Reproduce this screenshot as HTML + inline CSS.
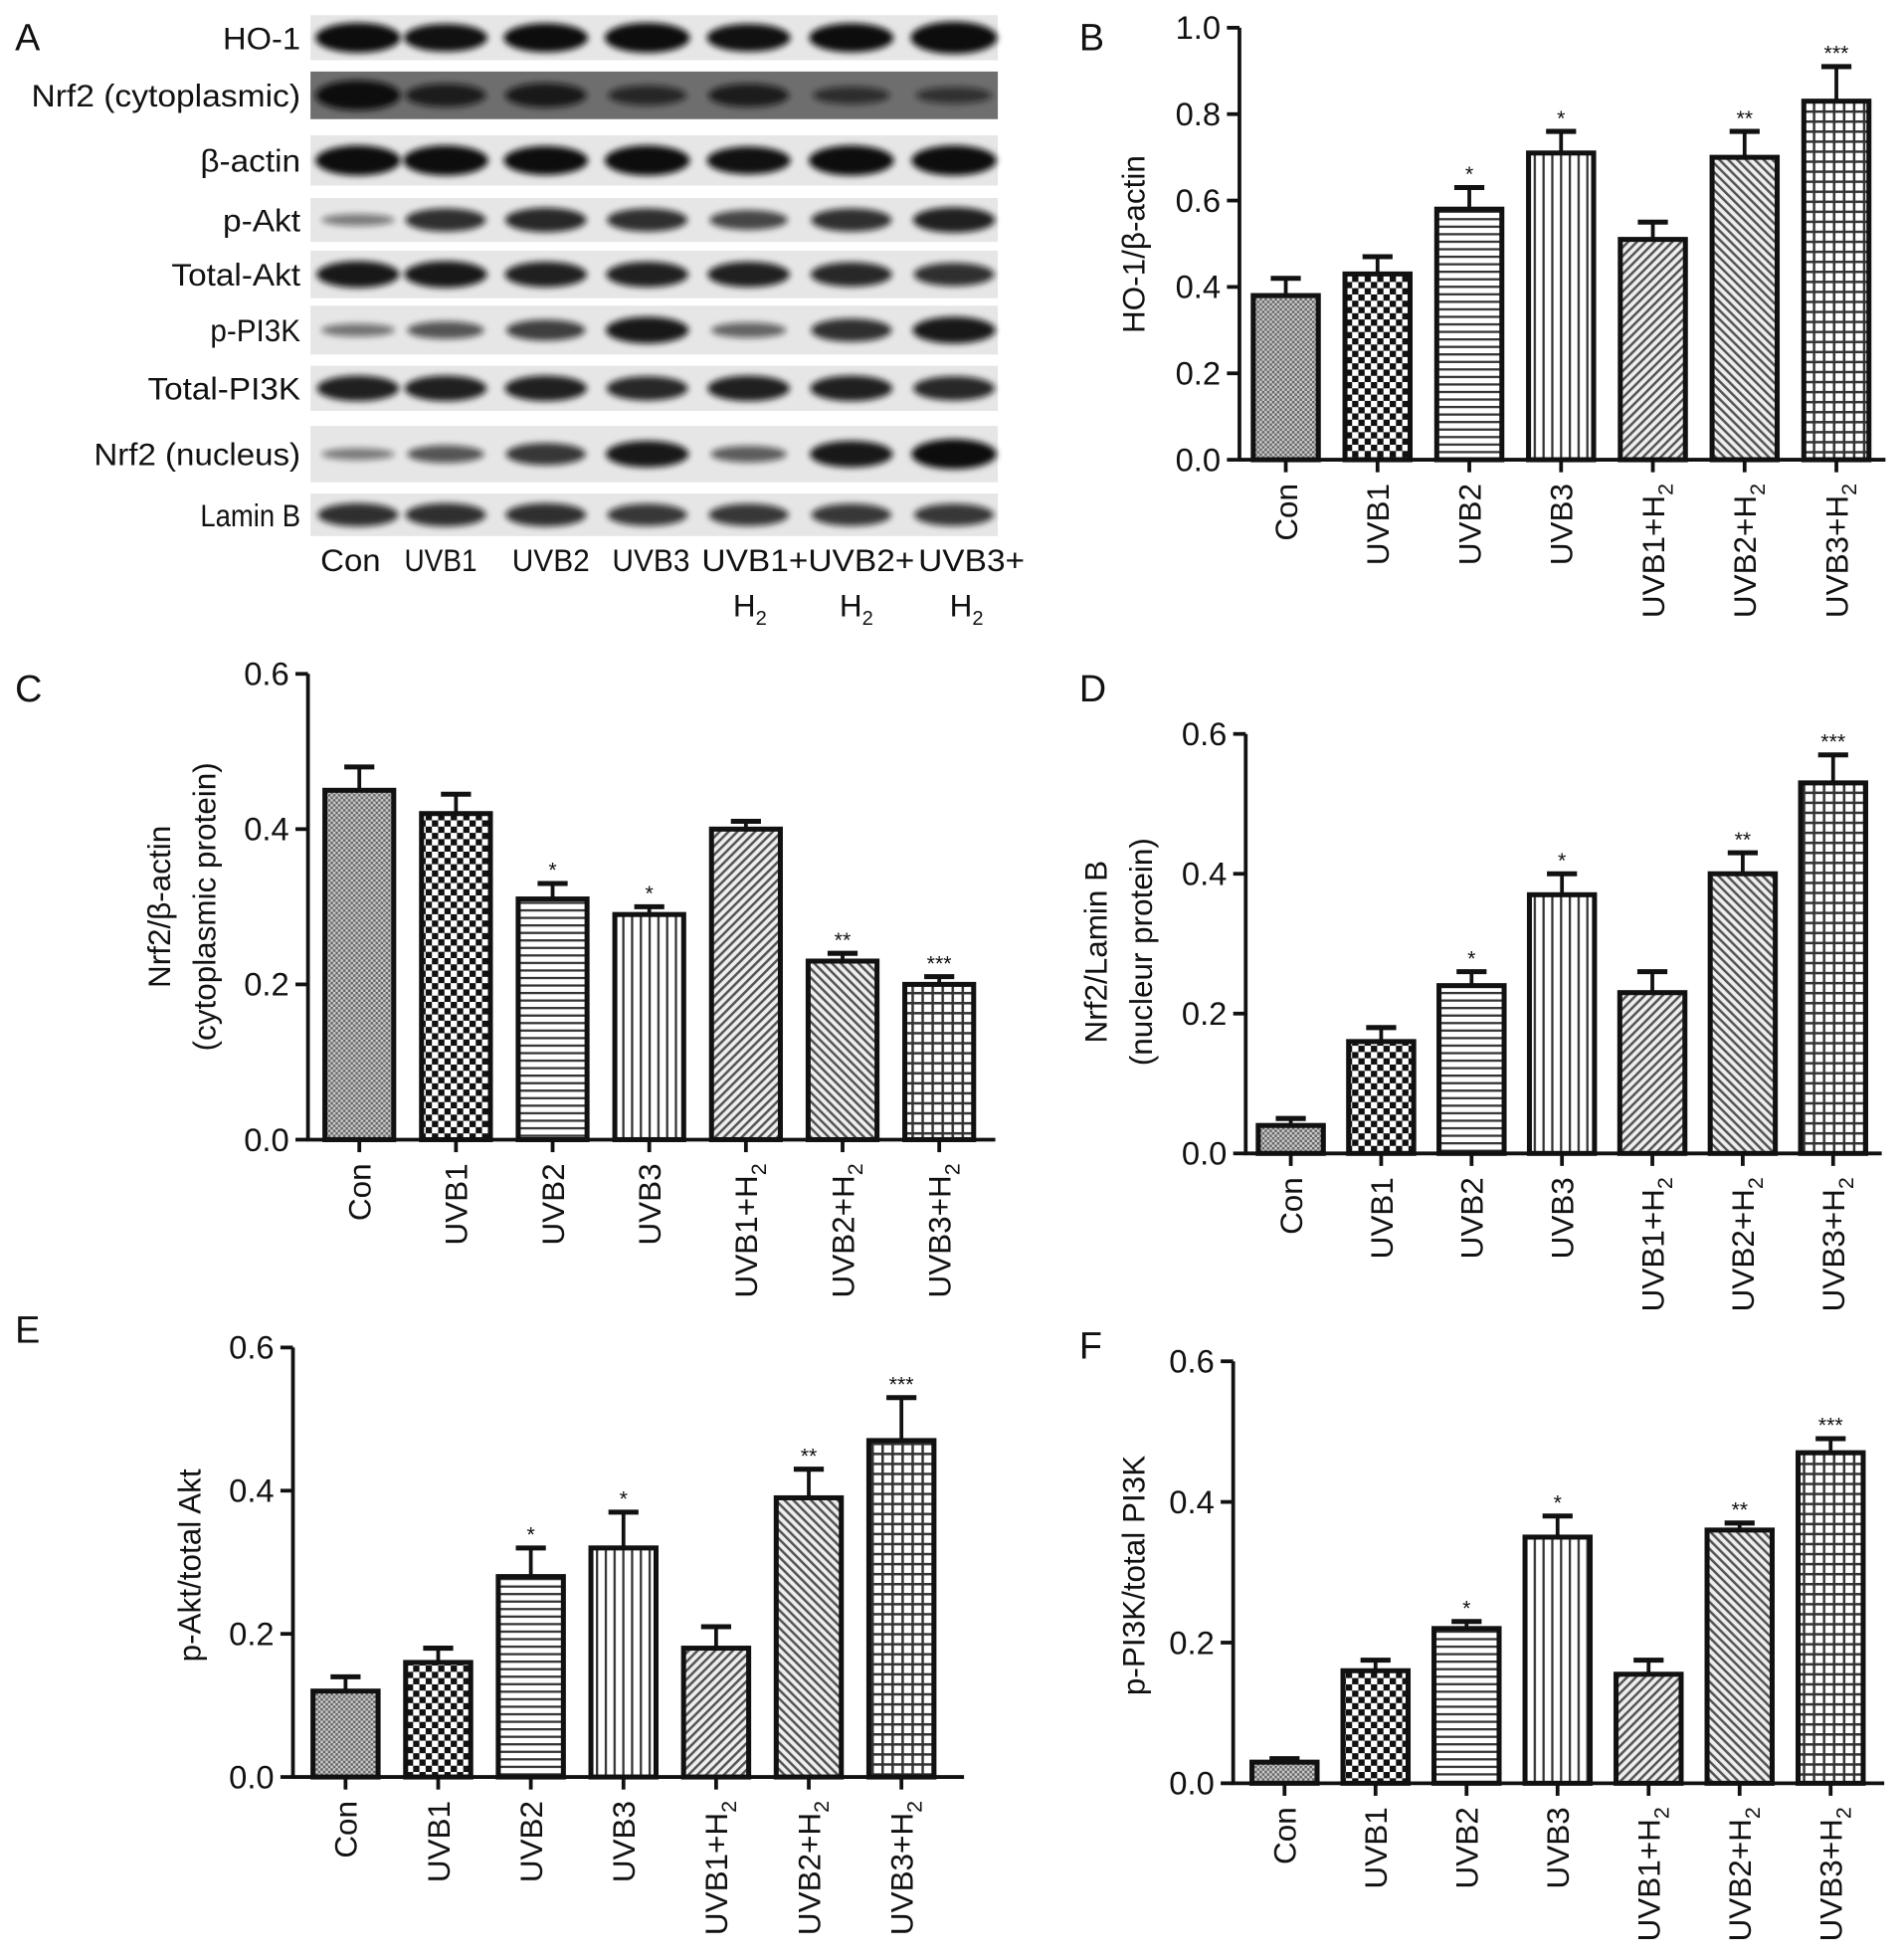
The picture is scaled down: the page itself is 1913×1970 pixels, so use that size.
<!DOCTYPE html>
<html><head><meta charset="utf-8">
<style>
html,body{margin:0;padding:0;background:#fff;}
svg{display:block;}
text{font-family:"Liberation Sans",sans-serif;fill:#111;}
</style></head>
<body>
<svg id="fig" width="1913" height="1970" viewBox="0 0 1520 1565" xmlns="http://www.w3.org/2000/svg">
<defs>
  <pattern id="p0" width="4" height="4" patternUnits="userSpaceOnUse"><rect width="4" height="4" fill="#ccc"/><rect width="2" height="2" fill="#666"/><rect x="2" y="2" width="2" height="2" fill="#666"/></pattern>
  <pattern id="p1" width="10" height="10" patternUnits="userSpaceOnUse"><rect width="10" height="10" fill="#fff"/><rect width="5" height="5" fill="#111"/><rect x="5" y="5" width="5" height="5" fill="#111"/></pattern>
  <pattern id="p2" width="6" height="6" patternUnits="userSpaceOnUse"><rect width="6" height="6" fill="#fff"/><rect y="0" width="6" height="1.8" fill="#333"/></pattern>
  <pattern id="p3" width="7" height="7" patternUnits="userSpaceOnUse"><rect width="7" height="7" fill="#fff"/><rect x="0" width="1.8" height="7" fill="#333"/></pattern>
  <pattern id="p4" width="5" height="5" patternUnits="userSpaceOnUse" patternTransform="rotate(45)"><rect width="5" height="5" fill="#eee"/><rect width="2" height="5" fill="#555"/></pattern>
  <pattern id="p5" width="5" height="5" patternUnits="userSpaceOnUse" patternTransform="rotate(-45)"><rect width="5" height="5" fill="#eee"/><rect width="2" height="5" fill="#555"/></pattern>
  <pattern id="p6" width="8" height="8" patternUnits="userSpaceOnUse"><rect width="8" height="8" fill="#333"/><rect x="2" y="2" width="6" height="6" fill="#fff"/></pattern>
  <filter id="blur" x="-30%" y="-80%" width="160%" height="260%"><feGaussianBlur stdDeviation="2.5"/></filter>
</defs>
<g id="panelA"></g>
<g id="charts"></g>
</svg>
<script>
const NS='http://www.w3.org/2000/svg';
const categories=['Con','UVB1','UVB2','UVB3','UVB1+H2','UVB2+H2','UVB3+H2'];
const yTicks=['0.0','0.2','0.4','0.6'];
const yTicksB=['0.0','0.2','0.4','0.6','0.8','1.0'];
const valuesB=[0.38,0.43,0.58,0.71,0.51,0.70,0.83];
const errorsB=[0.04,0.04,0.05,0.05,0.04,0.06,0.08];
const starsB=['','','*','*','','**','***'];
const valuesC=[0.45,0.42,0.31,0.29,0.40,0.23,0.20];
const errorsC=[0.03,0.025,0.02,0.01,0.01,0.01,0.01];
const starsC=['','','*','*','','**','***'];
const valuesD=[0.04,0.16,0.24,0.37,0.23,0.40,0.53];
const errorsD=[0.01,0.02,0.02,0.03,0.03,0.03,0.04];
const starsD=['','','*','*','','**','***'];
const valuesE=[0.12,0.16,0.28,0.32,0.18,0.39,0.47];
const errorsE=[0.02,0.02,0.04,0.05,0.03,0.04,0.06];
const starsE=['','','*','*','','**','***'];
const valuesF=[0.03,0.16,0.22,0.35,0.155,0.36,0.47];
const errorsF=[0.005,0.015,0.01,0.03,0.02,0.01,0.02];
const starsF=['','','*','*','','**','***'];
const blotRows=['HO-1','Nrf2 (cytoplasmic)','β-actin','p-Akt','Total-Akt','p-PI3K','Total-PI3K','Nrf2 (nucleus)','Lamin B'];
const blotIntensity=[
 [1,0.9,0.95,1,0.9,0.95,1.1],
 [1,0.7,0.75,0.55,0.7,0.45,0.4],
 [1,1,0.95,1,0.9,1,1],
 [0.2,0.7,0.75,0.7,0.55,0.7,0.8],
 [0.85,0.85,0.8,0.8,0.8,0.75,0.7],
 [0.25,0.45,0.6,0.85,0.35,0.7,0.85],
 [0.8,0.8,0.8,0.75,0.8,0.8,0.75],
 [0.2,0.45,0.65,0.85,0.4,0.85,1],
 [0.7,0.7,0.7,0.65,0.65,0.65,0.65]];

function el(tag,attrs,parent){const e=document.createElementNS(NS,tag);for(const k in attrs)e.setAttribute(k,attrs[k]);parent.appendChild(e);return e;}

// ---- Panel A ----
const A=document.getElementById('panelA');
const rowY=[[12,48],[57,95],[108,148],[158,193],[200,238],[244,283],[292,328],[340,385],[394,428]];
const rowLabW=[62,215,80,62,103,72,122,165,80];
const laneX=[286,356,436,517,598,680,762];
let t=el('text',{x:12,y:40,'font-size':30},A);t.textContent='A';

blotRows.forEach((name,i)=>{
  const [y0,y1]=rowY[i];
  const bg=el('rect',{x:248,y:y0,width:549,height:y1-y0,fill:i==1?'#6e6e6e':'#e6e6e6'},A);
  
  const lab=el('text',{x:240,y:(y0+y1)/2+9,'font-size':25,'text-anchor':'end',textLength:rowLabW[i],lengthAdjust:'spacingAndGlyphs'},A);
  lab.textContent=name;
  
  blotIntensity[i].forEach((v,j)=>{
    const b=el('ellipse',{cx:laneX[j],cy:(y0+y1)/2,rx:28+v*6,ry:3+v*9,fill:'#111',opacity:Math.min(1,0.35+v*0.7),filter:'url(#blur)'},A);
    
  });
});
const laneLab=[['Con',''],['UVB1',''],['UVB2',''],['UVB3',''],['UVB1+','H'],['UVB2+','H'],['UVB3+','H']];
const laneLabX=[280,352,440,520,603,688,776];
const laneLabW=[48,58,62,62,85,85,85];
laneLab.forEach((l,j)=>{
  const tx=el('text',{x:laneLabX[j],y:456,'font-size':25,'text-anchor':'middle',textLength:laneLabW[j],lengthAdjust:'spacingAndGlyphs'},A);tx.textContent=l[0];
  
  if(l[1]){const h=el('text',{x:laneLabX[j]-4,y:492,'font-size':25,'text-anchor':'middle'},A);
    h.innerHTML='H<tspan font-size="16" dy="7">2</tspan>';
    }
});

// ---- Bar charts ----
const C=document.getElementById('charts');
function chart(cfg){
  const g=el('g',{},C);
  
  const ymax=cfg.ymax;
  const yS=v=>cfg.y0-(v/ymax)*(cfg.y0-cfg.yTop);
  const xS=i=>cfg.first+i*cfg.step;
  const pl=el('text',{x:cfg.lx,y:cfg.ly,'font-size':30},g);pl.textContent=cfg.letter;
  
  cfg.vals.forEach((v,i)=>{
    const cx=xS(i),top=yS(v+cfg.errs[i]);
    const e1=el('line',{x1:cx,x2:cx,y1:yS(v),y2:top,stroke:'#111','stroke-width':3},g);
    
    const e2=el('line',{x1:cx-12,x2:cx+12,y1:top,y2:top,stroke:'#111','stroke-width':4},g);
    
    const r=el('rect',{x:cx-cfg.bw/2,y:yS(v),width:cfg.bw,height:cfg.y0-yS(v),fill:'url(#p'+i+')',stroke:'#111','stroke-width':4},g);
    
    if(cfg.stars[i]){const s=el('text',{x:cx,y:top-5,'font-size':17,'text-anchor':'middle'},g);s.textContent=cfg.stars[i];
      }
    const tk=el('line',{x1:cx,x2:cx,y1:cfg.y0,y2:cfg.y0+10,stroke:'#111','stroke-width':3},g);
    
    const name=categories[i];
    const lb=el('text',{'font-size':25,'text-anchor':'end',transform:`translate(${cx+9},${cfg.y0+19}) rotate(-90)`},g);
    if(name.endsWith('H2'))lb.innerHTML=name.slice(0,-1)+'<tspan font-size="17" dy="7">2</tspan>';else lb.textContent=name;
    
  });
  const ya=el('line',{x1:cfg.x0,x2:cfg.x0,y1:cfg.yTop,y2:cfg.y0,stroke:'#111','stroke-width':3},g);
  
  const xa=el('line',{x1:cfg.x0-1.5,x2:cfg.xEnd,y1:cfg.y0,y2:cfg.y0,stroke:'#111','stroke-width':3},g);
  
  cfg.ticks.forEach(tl=>{
    const y=yS(parseFloat(tl));
    const tk=el('line',{x1:cfg.x0-10,x2:cfg.x0,y1:y,y2:y,stroke:'#111','stroke-width':3},g);
    
    const tx=el('text',{x:cfg.x0-15,y:y+9,'font-size':26,'text-anchor':'end'},g);tx.textContent=tl;
    
  });
  cfg.title.forEach((line,k)=>{
    const tx=el('text',{'font-size':25,'text-anchor':'middle',transform:`translate(${cfg.tx+k*36},${cfg.ty}) rotate(-90)`},g);tx.textContent=line;
    
  });
}
chart({name:'chart-b-ho1',letter:'B',lx:862,ly:40,x0:990,xEnd:1506,y0:367,yTop:22,ymax:1.0,first:1027,step:73.3,bw:52,vals:valuesB,errs:errorsB,stars:starsB,ticks:yTicksB,title:['HO-1/β-actin'],tx:914,ty:195});
chart({name:'chart-c-nrf2-cyto',letter:'C',lx:12,ly:560,x0:246,xEnd:795,y0:910,yTop:538,ymax:0.6,first:287,step:77.2,bw:55,vals:valuesC,errs:errorsC,stars:starsC,ticks:yTicks,title:['Nrf2/β-actin','(cytoplasmic protein)'],tx:136,ty:724});
chart({name:'chart-d-nrf2-nucleus',letter:'D',lx:862,ly:560,x0:995,xEnd:1503,y0:921,yTop:586,ymax:0.6,first:1031,step:72.2,bw:52,vals:valuesD,errs:errorsD,stars:starsD,ticks:yTicks,title:['Nrf2/Lamin B','(nucleur protein)'],tx:884,ty:760});
chart({name:'chart-e-pakt',letter:'E',lx:12,ly:1072,x0:234,xEnd:770,y0:1419,yTop:1076,ymax:0.6,first:276,step:74,bw:52,vals:valuesE,errs:errorsE,stars:starsE,ticks:yTicks,title:['p-Akt/total Akt'],tx:160,ty:1250});
chart({name:'chart-f-ppi3k',letter:'F',lx:862,ly:1085,x0:985,xEnd:1505,y0:1424,yTop:1087,ymax:0.6,first:1026,step:72.7,bw:52,vals:valuesF,errs:errorsF,stars:starsF,ticks:yTicks,title:['p-PI3K/total PI3K'],tx:914,ty:1258});
</script>
</body></html>
